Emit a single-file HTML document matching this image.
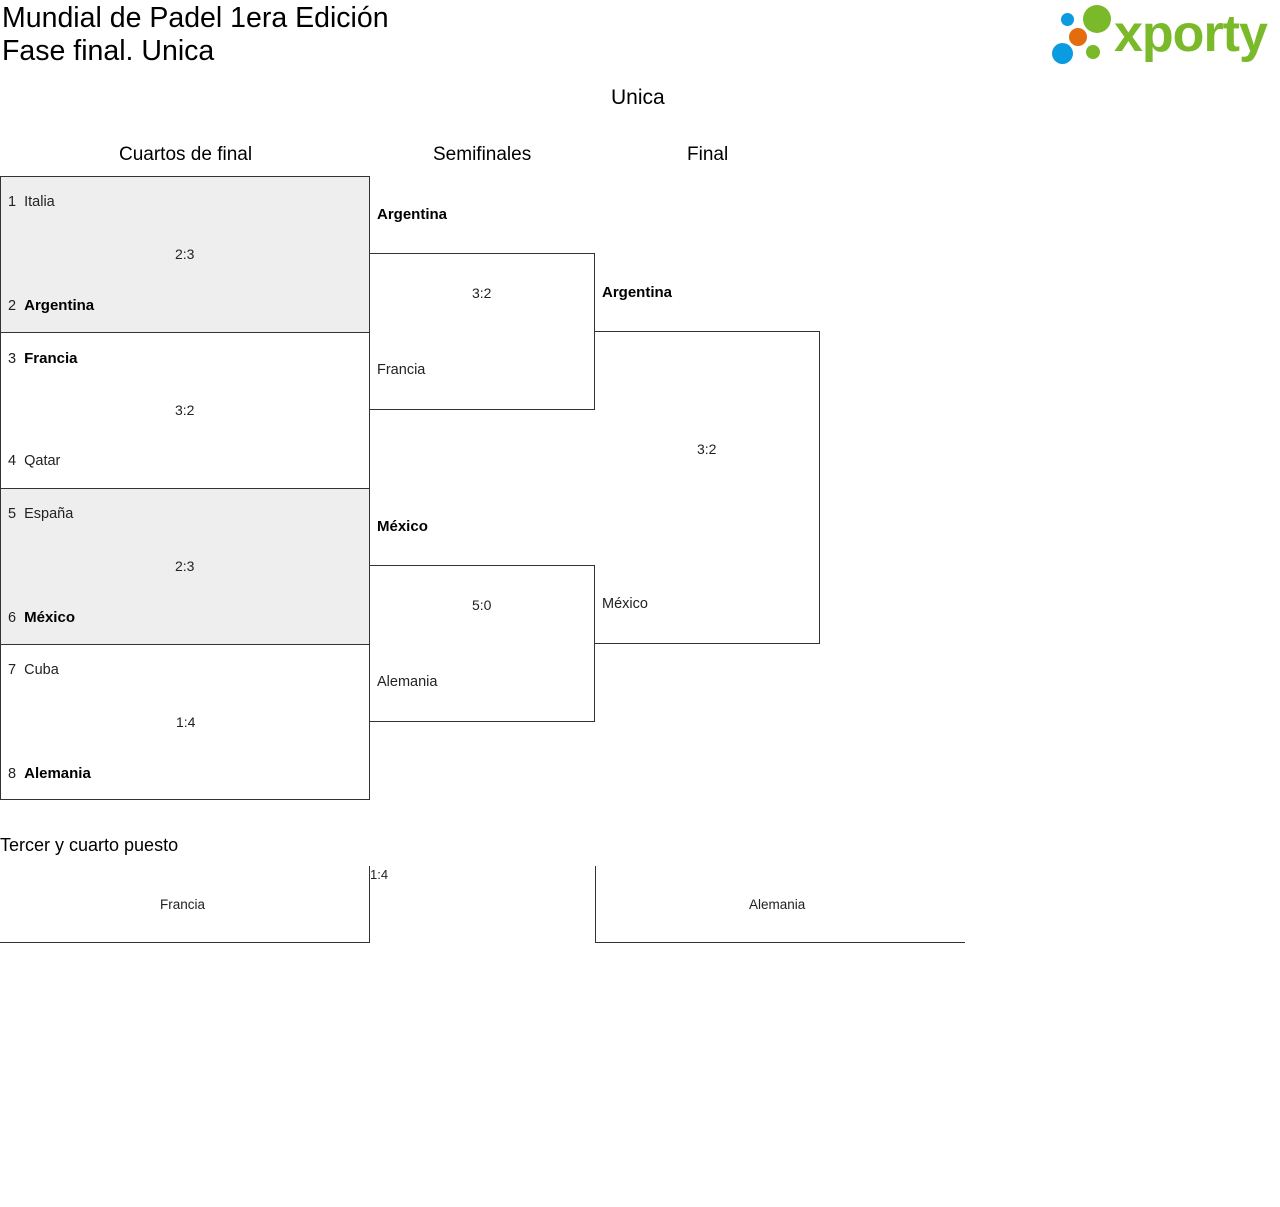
<!DOCTYPE html>
<html><head><meta charset="utf-8"><style>
body{margin:0;width:1280px;height:1207px;background:#fff;position:relative;font-family:"Liberation Sans",sans-serif;color:#000;overflow:hidden}
.a{position:absolute;white-space:nowrap}
.b{position:absolute;border:1px solid #333;box-sizing:border-box}
.g{background:#eee}
.n{font-size:14.5px;color:#222}
.w{font-size:15px;font-weight:bold;color:#000}
.s{font-size:14px;color:#222}
.h{font-size:19px}
.dot{position:absolute;border-radius:50%}
</style></head><body>
<div class="a" style="left:2px;top:2px;font-size:28.5px;line-height:33px">Mundial de Padel 1era Edición<br>Fase final. Unica</div>
<div class="dot" style="left:1061px;top:13px;width:13px;height:13px;background:#0a9be0"></div>
<div class="dot" style="left:1083px;top:5px;width:28px;height:28px;background:#7ab929"></div>
<div class="dot" style="left:1069px;top:28px;width:18px;height:18px;background:#e36d0d"></div>
<div class="dot" style="left:1052px;top:43px;width:21px;height:21px;background:#0a9be0"></div>
<div class="dot" style="left:1086px;top:45px;width:14px;height:14px;background:#7ab929"></div>
<div class="a" style="left:1114px;top:4px;font-size:52px;font-weight:bold;color:#7ab929;letter-spacing:-1px">xporty</div>

<div class="a h" style="left:611px;top:86px;font-size:21px">Unica</div>
<div class="a h" style="left:119px;top:144px">Cuartos de final</div>
<div class="a h" style="left:433px;top:144px">Semifinales</div>
<div class="a h" style="left:687px;top:144px">Final</div>

<div class="b g" style="left:0;top:176px;width:370px;height:157px"></div>
<div class="b" style="left:0;top:332px;width:370px;height:157px"></div>
<div class="b g" style="left:0;top:488px;width:370px;height:157px"></div>
<div class="b" style="left:0;top:644px;width:370px;height:156px"></div>

<div class="a n" style="left:8px;top:194px">1&nbsp; Italia</div>
<div class="a s" style="left:175px;top:246px">2:3</div>
<div class="a n" style="left:8px;top:297px">2&nbsp; <span class="w">Argentina</span></div>
<div class="a n" style="left:8px;top:350px">3&nbsp; <span class="w">Francia</span></div>
<div class="a s" style="left:175px;top:402px">3:2</div>
<div class="a n" style="left:8px;top:453px">4&nbsp; Qatar</div>
<div class="a n" style="left:8px;top:506px">5&nbsp; España</div>
<div class="a s" style="left:175px;top:558px">2:3</div>
<div class="a n" style="left:8px;top:609px">6&nbsp; <span class="w">México</span></div>
<div class="a n" style="left:8px;top:662px">7&nbsp; Cuba</div>
<div class="a s" style="left:176px;top:714px">1:4</div>
<div class="a n" style="left:8px;top:765px">8&nbsp; <span class="w">Alemania</span></div>

<div class="b" style="left:369px;top:253px;width:226px;height:157px;border-left:none"></div>
<div class="b" style="left:369px;top:565px;width:226px;height:157px;border-left:none"></div>
<div class="a w" style="left:377px;top:206px">Argentina</div>
<div class="a s" style="left:472px;top:285px">3:2</div>
<div class="a n" style="left:377px;top:362px">Francia</div>
<div class="a w" style="left:377px;top:518px">México</div>
<div class="a s" style="left:472px;top:597px">5:0</div>
<div class="a n" style="left:377px;top:674px">Alemania</div>

<div class="b" style="left:594px;top:331px;width:226px;height:313px;border-left:none"></div>
<div class="a w" style="left:602px;top:284px">Argentina</div>
<div class="a s" style="left:697px;top:441px">3:2</div>
<div class="a n" style="left:602px;top:596px">México</div>

<div class="a" style="left:0;top:835px;font-size:18px">Tercer y cuarto puesto</div>
<div class="a" style="left:0;top:942px;width:370px;border-top:1px solid #333"></div>
<div class="a" style="left:369px;top:866px;height:77px;border-left:1px solid #333"></div>
<div class="a" style="left:370px;top:867px;font-size:13px;color:#222">1:4</div>
<div class="a" style="left:160px;top:897px;font-size:13.5px;color:#222">Francia</div>
<div class="a" style="left:595px;top:942px;width:370px;border-top:1px solid #333"></div>
<div class="a" style="left:595px;top:866px;height:77px;border-left:1px solid #333"></div>
<div class="a" style="left:749px;top:897px;font-size:13.5px;color:#222">Alemania</div>
</body></html>
